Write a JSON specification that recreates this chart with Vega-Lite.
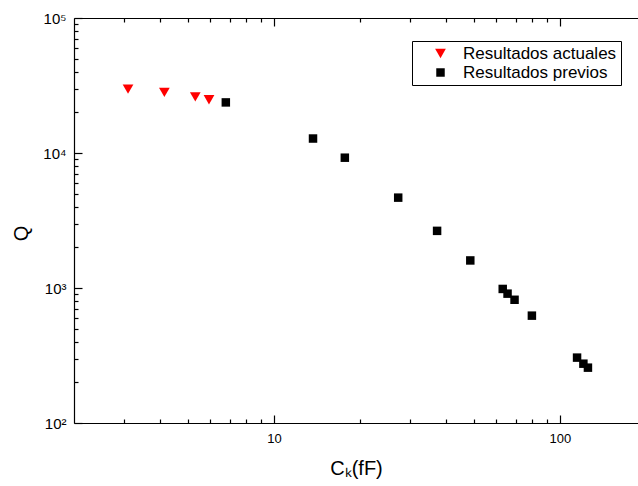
{
  "$schema": "https://vega.github.io/schema/vega-lite/v6.json",
  "width": 564,
  "height": 405,
  "autosize": "none",
  "padding": {"left": 74, "top": 18, "right": 0, "bottom": 63},
  "background": "white",
  "config": {"view": {"stroke": null}, "font": "Liberation Sans"},
  "data": {"values": [
    {"serie": "Resultados actuales", "ck": 3.09, "q": 29700},
    {"serie": "Resultados actuales", "ck": 4.14, "q": 28100},
    {"serie": "Resultados actuales", "ck": 5.31, "q": 26000},
    {"serie": "Resultados actuales", "ck": 5.93, "q": 24800},
    {"serie": "Resultados previos", "ck": 6.79, "q": 23700},
    {"serie": "Resultados previos", "ck": 13.7, "q": 12800},
    {"serie": "Resultados previos", "ck": 17.7, "q": 9230},
    {"serie": "Resultados previos", "ck": 27.2, "q": 4670},
    {"serie": "Resultados previos", "ck": 37.2, "q": 2650},
    {"serie": "Resultados previos", "ck": 48.6, "q": 1600},
    {"serie": "Resultados previos", "ck": 63.1, "q": 984},
    {"serie": "Resultados previos", "ck": 65.6, "q": 908},
    {"serie": "Resultados previos", "ck": 69.4, "q": 818},
    {"serie": "Resultados previos", "ck": 79.8, "q": 624},
    {"serie": "Resultados previos", "ck": 114.8, "q": 305},
    {"serie": "Resultados previos", "ck": 120.8, "q": 275},
    {"serie": "Resultados previos", "ck": 125.3, "q": 257}
  ]},
  "layer": [
    {
      "mark": {"type": "point", "filled": true, "opacity": 1, "strokeWidth": 0},
      "encoding": {
        "x": {
          "field": "ck", "type": "quantitative",
          "scale": {"type": "log", "domain": [2, 187.5], "nice": false},
          "axis": {
            "orient": "bottom",
            "values": [3, 4, 5, 6, 7, 8, 9, 10, 20, 30, 40, 50, 60, 70, 80, 90, 100],
            "labelExpr": "abs(log(datum.value)/LN10 - round(log(datum.value)/LN10)) < 0.001 ? format(datum.value, 'd') : ''",
            "labelOverlap": false,
            "labelFlush": false,
            "tickSize": {"condition": {"test": "abs(log(datum.value)/LN10 - round(log(datum.value)/LN10)) < 0.001", "value": -8}, "value": -4},
            "labelPadding": 17,
            "labelFontSize": 13,
            "labelColor": "black",
            "labelFont": "Liberation Sans",
            "domainColor": "black",
            "domainWidth": 1.2,
            "tickColor": "black",
            "tickWidth": 1.2,
            "grid": false,
            "title": "Cₖ(fF)",
            "titleFontSize": 20,
            "titleFontWeight": "normal",
            "titleFont": "Liberation Sans",
            "titleColor": "black",
            "titleY": 51,
            "titleBaseline": "alphabetic"
          }
        },
        "y": {
          "field": "q", "type": "quantitative",
          "scale": {"type": "log", "domain": [100, 100000], "nice": false},
          "axis": {
            "orient": "left",
            "values": [100, 1000, 10000, 100000],
            "labelExpr": "datum.value == 100 ? '10²' : datum.value == 1000 ? '10³' : datum.value == 10000 ? '10⁴' : '10⁵'",
            "labelOverlap": false,
            "labelFlush": false,
            "tickSize": -8,
            "labelPadding": 16,
            "labelFontSize": 15,
            "labelColor": "black",
            "labelFont": "Liberation Sans",
            "domainColor": "black",
            "domainWidth": 1.2,
            "tickColor": "black",
            "tickWidth": 1.2,
            "grid": false,
            "title": "Q",
            "titleFontSize": 20,
            "titleFontWeight": "normal",
            "titleFont": "Liberation Sans",
            "titleColor": "black",
            "titleAngle": -90,
            "titleX": -53,
            "titleY": 215,
            "titleAlign": "center",
            "titleBaseline": "middle"
          }
        },
        "color": {
          "field": "serie", "type": "nominal",
          "scale": {"domain": ["Resultados actuales", "Resultados previos"], "range": ["#ff0000", "#000000"]},
          "legend": {"title": null, "orient": "none", "legendX": 338, "legendY": 23, "padding": 4, "strokeColor": "black", "fillColor": "white", "labelFont": "Liberation Sans", "labelFontSize": 17, "labelColor": "black", "symbolOffset": 16, "labelOffset": 14, "rowPadding": 1, "symbolStrokeWidth": 0}
        },
        "shape": {
          "field": "serie", "type": "nominal",
          "scale": {"domain": ["Resultados actuales", "Resultados previos"], "range": ["triangle-down", "square"]},
          "legend": {"title": null, "orient": "none", "legendX": 338, "legendY": 23, "padding": 4, "strokeColor": "black", "fillColor": "white", "labelFont": "Liberation Sans", "labelFontSize": 17, "labelColor": "black", "symbolOffset": 16, "labelOffset": 14, "rowPadding": 1, "symbolStrokeWidth": 0}
        },
        "size": {
          "field": "serie", "type": "nominal",
          "scale": {"domain": ["Resultados actuales", "Resultados previos"], "range": [115, 72]},
          "legend": {"title": null, "orient": "none", "legendX": 338, "legendY": 23, "padding": 4, "strokeColor": "black", "fillColor": "white", "labelFont": "Liberation Sans", "labelFontSize": 17, "labelColor": "black", "symbolOffset": 16, "labelOffset": 14, "rowPadding": 1, "symbolStrokeWidth": 0}
        }
      }
    },
    {
      "mark": {"type": "point", "opacity": 0},
      "encoding": {
        "x": {
          "field": "ck", "type": "quantitative",
          "scale": {"type": "log", "domain": [2, 187.5], "nice": false},
          "axis": {
            "orient": "top",
            "values": [3, 4, 5, 6, 7, 8, 9, 20, 30, 40, 50, 60, 70, 80, 90],
            "labels": false,
            "tickSize": -4,
            "domainColor": "black",
            "domainWidth": 1.2,
            "tickColor": "black",
            "tickWidth": 1.2,
            "grid": false,
            "title": null
          }
        },
        "y": {
          "field": "q", "type": "quantitative",
          "scale": {"type": "log", "domain": [100, 100000], "nice": false},
          "axis": {
            "orient": "left",
            "values": [200, 300, 400, 500, 600, 700, 800, 900, 2000, 3000, 4000, 5000, 6000, 7000, 8000, 9000, 20000, 30000, 40000, 50000, 60000, 70000, 80000, 90000],
            "labels": false,
            "domain": false,
            "tickSize": -4,
            "tickColor": "black",
            "tickWidth": 1.2,
            "grid": false,
            "title": null
          }
        }
      }
    },
    {
      "mark": {"type": "point", "opacity": 0},
      "encoding": {
        "x": {
          "field": "ck", "type": "quantitative",
          "scale": {"type": "log", "domain": [2, 187.5], "nice": false},
          "axis": {
            "orient": "top",
            "values": [10, 100],
            "labels": false,
            "domain": false,
            "tickSize": -8,
            "tickColor": "black",
            "tickWidth": 1.2,
            "grid": false,
            "title": null
          }
        },
        "y": {
          "field": "q", "type": "quantitative",
          "scale": {"type": "log", "domain": [100, 100000], "nice": false},
          "axis": null
        }
      }
    }
  ],
  "resolve": {"axis": {"x": "independent", "y": "independent"}}
}
